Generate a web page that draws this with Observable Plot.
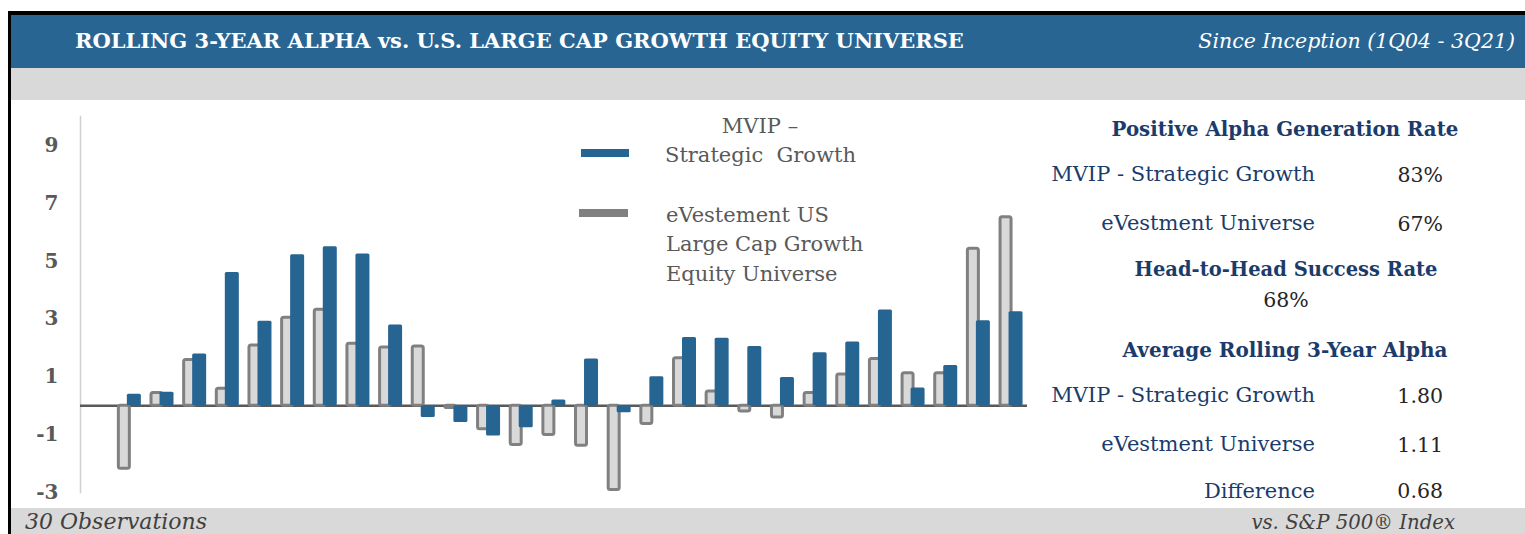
<!DOCTYPE html>
<html><head><meta charset="utf-8">
<script src="https://cdn.jsdelivr.net/npm/d3@7"></script>
<script src="https://cdn.jsdelivr.net/npm/@observablehq/plot@0.6"></script>
<style>
html,body{margin:0;padding:0;background:#fff;}
#wrap{position:relative;width:1525px;height:534px;overflow:hidden;background:#fff;font-family:"DejaVu Serif",serif;}
.box{position:absolute;box-sizing:border-box;}
.t{position:absolute;white-space:pre;line-height:1;}
#chart{position:absolute;left:0;top:100px;}
</style></head><body><div id="wrap"><div id="chart"></div></div>
<script>
// ---- data ----
const obsIndex = [1,2,3,4,5,6,7,8,9,10,11,12,13,14,15,16,17,18,19,20,21,22,23,24,25,26,27,28];
const mvipAlpha = [0.40,0.47,1.79,4.61,2.92,5.22,5.50,5.25,2.79,-0.41,-0.58,-1.05,-0.76,0.20,1.62,-0.24,1.00,2.36,2.33,2.05,0.98,1.83,2.20,3.31,0.61,1.39,2.94,3.25];
const universeAlpha = [-2.18,0.44,1.58,0.59,2.08,3.04,3.32,2.14,2.01,2.05,-0.08,-0.81,-1.36,-1.01,-1.38,-2.91,-0.63,1.64,0.49,-0.20,-0.41,0.44,1.08,1.62,1.12,1.12,5.43,6.52];
const yTicks = [-3,-1,1,3,5,7,9];
const titleText = "ROLLING 3-YEAR ALPHA vs. U.S. LARGE CAP GROWTH EQUITY UNIVERSE";
const subtitleText = "Since Inception (1Q04 - 3Q21)";
const legendMvip = ["MVIP –", "Strategic  Growth"];
const legendUniverse = ["eVestement US", "Large Cap Growth", "Equity Universe"];
const positiveLabels = ["MVIP - Strategic Growth", "eVestment Universe"];
const positiveValues = ["83%", "67%"];
const headToHeadValue = "68%";
const averageLabels = ["MVIP - Strategic Growth", "eVestment Universe", "Difference"];
const averageValues = ["1.80", "1.11", "0.68"];
const footLeft = "30 Observations";
const footRight = "vs. S&P 500® Index";

const BLUE = "#266491", GRAYSTROKE = "#808080", GRAYFILL = "#d9d9d9", NAVY = "#1b3b6b";

const wrap = document.getElementById("wrap");
function box(l, t, w, h, css) {
  const d = document.createElement("div");
  d.className = "box";
  Object.assign(d.style, {left: l + "px", top: t + "px", width: w + "px", height: h + "px"}, css);
  wrap.appendChild(d);
  return d;
}
function label(txt, x, base, o) {
  const d = document.createElement("div");
  d.className = "t";
  d.textContent = txt;
  const size = o.size;
  d.style.fontSize = size + "px";
  d.style.fontWeight = o.weight || "normal";
  d.style.fontStyle = o.style || "normal";
  d.style.color = o.color;
  d.style.top = (base - 0.846 * size) + "px";
  const a = o.anchor || "start";
  if (a === "start") d.style.left = x + "px";
  else if (a === "end") d.style.right = (1525 - x) + "px";
  else { d.style.left = x + "px"; d.style.transform = "translateX(-50%)"; }
  wrap.appendChild(d);
}

// frame & bands
box(8, 11, 1540, 540, {borderTop: "4px solid #000", borderLeft: "3px solid #000"});
box(11, 15, 1514, 53, {background: "#286592"});
box(11, 68, 1514, 32, {background: "#d9d9d9"});
box(11, 508, 1514, 26, {background: "#d9d9d9"});

label(titleText, 75, 48, {size: 21, weight: "bold", color: "#fff"});
label(subtitleText, 1515, 48, {size: 20.5, style: "italic", color: "#fff", anchor: "end"});

// legend
box(581, 149, 48, 8, {background: BLUE});
box(579, 209, 49, 8, {background: GRAYSTROKE});
label(legendMvip[0], 760, 134, {size: 21, color: "#595959", anchor: "middle"});
label(legendMvip[1], 665, 163, {size: 21, color: "#595959"});
legendUniverse.forEach((s, i) => label(s, 666, 223 + i * 29.2, {size: 21, color: "#595959"}));

// stats panel
label("Positive Alpha Generation Rate", 1285, 137, {size: 19.8, weight: "bold", color: NAVY, anchor: "middle"});
positiveLabels.forEach((s, i) => {
  label(s, 1315, 182 + i * 49, {size: 21, color: NAVY, anchor: "end"});
  label(positiveValues[i], 1443, 182 + i * 49, {size: 20.5, color: "#262626", anchor: "end"});
});
label("Head-to-Head Success Rate", 1286, 276, {size: 19.5, weight: "bold", color: NAVY, anchor: "middle"});
label(headToHeadValue, 1286, 307, {size: 20.5, color: "#262626", anchor: "middle"});
label("Average Rolling 3-Year Alpha", 1285, 357, {size: 20, weight: "bold", color: NAVY, anchor: "middle"});
averageLabels.forEach((s, i) => {
  const b = [403, 452, 498.5][i];
  label(s, 1315, b, {size: 21, color: NAVY, anchor: "end"});
  label(averageValues[i], 1443, b, {size: 20.5, color: "#262626", anchor: "end"});
});

label(footLeft, 25, 530, {size: 22, style: "italic", color: "#404040"});
label(footRight, 1455, 530, {size: 19.7, style: "italic", color: "#404040", anchor: "end"});

// chart
const rows = obsIndex.map((o, i) => ({obs: o, mvip: mvipAlpha[i], uni: universeAlpha[i]}));
const chart = Plot.plot({
  width: 1040, height: 408,
  marginLeft: 80, marginRight: 13, marginTop: 16, marginBottom: 16,
  x: {type: "band", domain: [0, ...obsIndex], padding: 0, round: false, axis: null},
  y: {domain: [-3, 10], axis: null},
  style: {background: "transparent", fontFamily: "DejaVu Serif", overflow: "visible"},
  marks: [
    Plot.frame({anchor: "left", stroke: "#d0d0d0", strokeWidth: 1.5}),
    Plot.axisY(yTicks, {tickSize: 0, tickPadding: 22, fontSize: 20, fontWeight: "bold", color: "#595959", label: null, tickFormat: d => String(d)}),
    Plot.ruleY([0], {stroke: "#595959", strokeWidth: 2.5}),
    Plot.barY(rows, {x: "obs", y: "uni", fill: GRAYFILL, stroke: GRAYSTROKE, strokeWidth: 3, insetLeft: 5.7, insetRight: 15.96, rx: 2}),
    Plot.barY(rows, {x: "obs", y: "mvip", fill: BLUE, insetLeft: 14.2, insetRight: 4.46, rx: 1.5})
  ]
});
document.getElementById("chart").appendChild(chart);
</script></body></html>
